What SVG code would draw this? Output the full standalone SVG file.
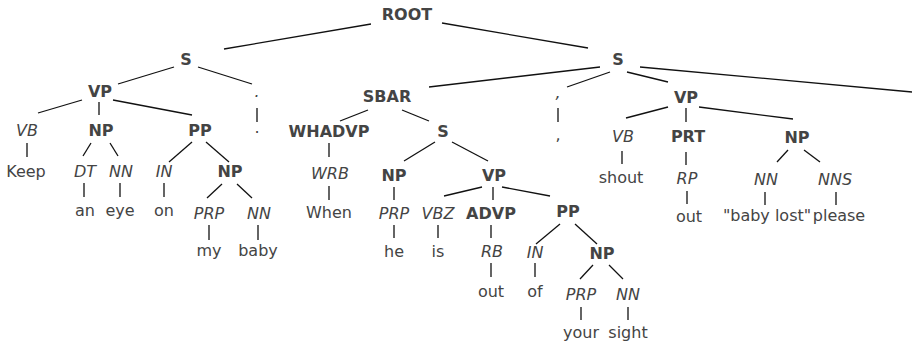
<svg xmlns="http://www.w3.org/2000/svg" width="912" height="345" viewBox="0 0 912 345">
  <style>
    text { font-family: "DejaVu Sans", Verdana, sans-serif; font-size: 16px; fill: #444; text-anchor: middle; }
    .phrase { font-weight: bold; }
    .tag { font-style: italic; }
    .edges line { stroke: #111; stroke-width: 1.3; }
  </style>
  <rect width="912" height="345" fill="#fff"/>

  <g class="edges" id="connectors">
    <!-- ROOT -->
    <line x1="371" y1="24" x2="224" y2="49"/>
    <line x1="442" y1="23" x2="588" y2="48"/>
    <!-- left S -->
    <line x1="174" y1="67" x2="118" y2="84"/>
    <line x1="198" y1="67" x2="252" y2="84"/>
    <line x1="257" y1="108" x2="257" y2="122"/>
    <!-- left VP -->
    <line x1="82" y1="100" x2="38" y2="113"/>
    <line x1="99" y1="102" x2="99" y2="115"/>
    <line x1="113" y1="100" x2="192" y2="115"/>
    <line x1="27" y1="143" x2="27" y2="157"/>
    <line x1="91" y1="143" x2="83" y2="156"/>
    <line x1="110" y1="143" x2="118" y2="156"/>
    <line x1="84" y1="183" x2="84" y2="197"/>
    <line x1="120" y1="183" x2="120" y2="197"/>
    <line x1="192" y1="142" x2="169" y2="162"/>
    <line x1="206" y1="142" x2="229" y2="162"/>
    <line x1="164" y1="183" x2="164" y2="197"/>
    <line x1="222" y1="184" x2="207" y2="198"/>
    <line x1="237" y1="184" x2="252" y2="198"/>
    <line x1="209" y1="225" x2="209" y2="240"/>
    <line x1="258" y1="225" x2="258" y2="240"/>
    <!-- right S -->
    <line x1="600" y1="67" x2="429" y2="87"/>
    <line x1="610" y1="72" x2="567" y2="87"/>
    <line x1="627" y1="72" x2="668" y2="82"/>
    <line x1="640" y1="67" x2="912" y2="92"/>
    <line x1="558" y1="108" x2="558" y2="122"/>
    <!-- SBAR -->
    <line x1="368" y1="110" x2="340" y2="121"/>
    <line x1="402" y1="110" x2="429" y2="121"/>
    <line x1="329" y1="143" x2="329" y2="157"/>
    <line x1="329" y1="186" x2="329" y2="200"/>
    <line x1="435" y1="142" x2="404" y2="161"/>
    <line x1="452" y1="142" x2="488" y2="161"/>
    <line x1="394" y1="187" x2="394" y2="200"/>
    <line x1="482" y1="187" x2="444" y2="196"/>
    <line x1="493" y1="187" x2="493" y2="200"/>
    <line x1="502" y1="187" x2="550" y2="196"/>
    <line x1="394" y1="225" x2="394" y2="238"/>
    <line x1="438" y1="225" x2="438" y2="238"/>
    <line x1="491" y1="225" x2="491" y2="238"/>
    <line x1="560" y1="224" x2="536" y2="244"/>
    <line x1="575" y1="224" x2="597" y2="244"/>
    <line x1="491" y1="263" x2="491" y2="277"/>
    <line x1="535" y1="263" x2="535" y2="277"/>
    <line x1="593" y1="265" x2="580" y2="279"/>
    <line x1="609" y1="265" x2="623" y2="279"/>
    <line x1="581" y1="307" x2="581" y2="320"/>
    <line x1="628" y1="307" x2="628" y2="320"/>
    <!-- right VP -->
    <line x1="668" y1="107" x2="626" y2="118"/>
    <line x1="686" y1="108" x2="686" y2="122"/>
    <line x1="699" y1="107" x2="793" y2="119"/>
    <line x1="622" y1="151" x2="622" y2="164"/>
    <line x1="686" y1="152" x2="686" y2="165"/>
    <line x1="687" y1="191" x2="687" y2="204"/>
    <line x1="788" y1="150" x2="777" y2="162"/>
    <line x1="804" y1="150" x2="820" y2="162"/>
    <line x1="765" y1="192" x2="765" y2="205"/>
    <line x1="836" y1="192" x2="836" y2="205"/>
  </g>

  <g id="root"><text class="phrase" x="407" y="20">ROOT</text></g>

  <!-- first clause -->
  <g id="s1"><text class="phrase" x="186" y="65">S</text></g>
  <g id="vp1"><text class="phrase" x="100" y="97">VP</text></g>
  <g id="vb1"><text class="tag" x="27" y="136">VB</text></g>
  <g id="w-keep"><text x="26" y="177">Keep</text></g>
  <g id="np1"><text class="phrase" x="101" y="136">NP</text></g>
  <g id="dt1"><text class="tag" x="85" y="177">DT</text></g>
  <g id="nn1"><text class="tag" x="121" y="177">NN</text></g>
  <g id="w-an"><text x="85" y="216">an</text></g>
  <g id="w-eye"><text x="120" y="216">eye</text></g>
  <g id="pp1"><text class="phrase" x="200" y="136">PP</text></g>
  <g id="in1"><text class="tag" x="164" y="177">IN</text></g>
  <g id="w-on"><text x="164" y="216">on</text></g>
  <g id="np2"><text class="phrase" x="230" y="177">NP</text></g>
  <g id="prp1"><text class="tag" x="209" y="219">PRP</text></g>
  <g id="nn2"><text class="tag" x="259" y="219">NN</text></g>
  <g id="w-my"><text x="209" y="256">my</text></g>
  <g id="w-baby"><text x="258" y="256">baby</text></g>
  <g id="p-period"><text class="tag" x="257" y="97">.</text></g>
  <g id="w-period"><text x="257" y="133">.</text></g>

  <!-- second clause -->
  <g id="s2"><text class="phrase" x="618" y="65">S</text></g>
  <g id="sbar"><text class="phrase" x="387" y="102">SBAR</text></g>
  <g id="whadvp"><text class="phrase" x="329" y="137">WHADVP</text></g>
  <g id="wrb"><text class="tag" x="330" y="179">WRB</text></g>
  <g id="w-when"><text x="329" y="218">When</text></g>
  <g id="s3"><text class="phrase" x="443" y="137">S</text></g>
  <g id="np3"><text class="phrase" x="394" y="181">NP</text></g>
  <g id="prp2"><text class="tag" x="394" y="219">PRP</text></g>
  <g id="w-he"><text x="394" y="257">he</text></g>
  <g id="vp2"><text class="phrase" x="494" y="181">VP</text></g>
  <g id="vbz"><text class="tag" x="438" y="219">VBZ</text></g>
  <g id="w-is"><text x="438" y="257">is</text></g>
  <g id="advp"><text class="phrase" x="491" y="219">ADVP</text></g>
  <g id="rb"><text class="tag" x="492" y="257">RB</text></g>
  <g id="w-out1"><text x="491" y="297">out</text></g>
  <g id="pp2"><text class="phrase" x="568" y="217">PP</text></g>
  <g id="in2"><text class="tag" x="535" y="258">IN</text></g>
  <g id="w-of"><text x="535" y="297">of</text></g>
  <g id="np4"><text class="phrase" x="602" y="259">NP</text></g>
  <g id="prp3"><text class="tag" x="581" y="300">PRP</text></g>
  <g id="nn3"><text class="tag" x="628" y="300">NN</text></g>
  <g id="w-your"><text x="581" y="338">your</text></g>
  <g id="w-sight"><text x="628" y="338">sight</text></g>
  <g id="p-comma"><text class="tag" x="558" y="98">,</text></g>
  <g id="w-comma"><text x="558" y="140">,</text></g>
  <g id="vp3"><text class="phrase" x="686" y="103">VP</text></g>
  <g id="vb2"><text class="tag" x="623" y="142">VB</text></g>
  <g id="w-shout"><text x="621" y="183">shout</text></g>
  <g id="prt"><text class="phrase" x="688" y="142">PRT</text></g>
  <g id="rp"><text class="tag" x="687" y="184">RP</text></g>
  <g id="w-out2"><text x="689" y="222">out</text></g>
  <g id="np5"><text class="phrase" x="797" y="143">NP</text></g>
  <g id="nn4"><text class="tag" x="766" y="185">NN</text></g>
  <g id="nns"><text class="tag" x="835" y="185">NNS</text></g>
  <g id="w-babylost"><text x="767" y="221">"baby lost"</text></g>
  <g id="w-please"><text x="839" y="221">please</text></g>
</svg>
